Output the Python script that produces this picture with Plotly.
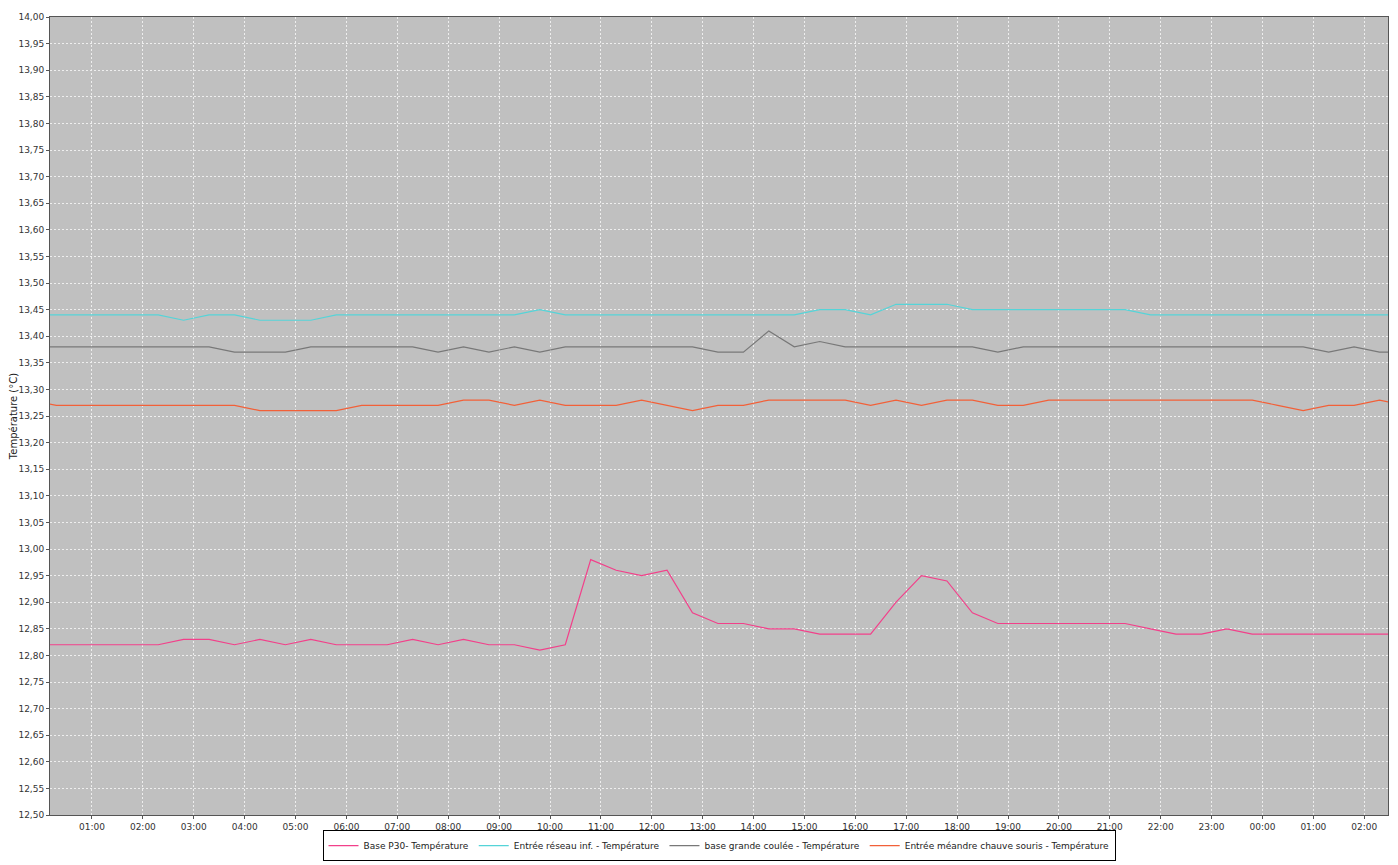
import pandas as pd
import plotly.graph_objects as go

# samples every 30 minutes, the axis window clips the first and last one
times = pd.date_range("2010-01-01 23:48", periods=55, freq="30min")

base_p30 = [12.82, 12.82, 12.82, 12.82, 12.82, 12.82, 12.83, 12.83, 12.82, 12.83,
            12.82, 12.83, 12.82, 12.82, 12.82, 12.83, 12.82, 12.83, 12.82, 12.82,
            12.81, 12.82, 12.98, 12.96, 12.95, 12.96, 12.88, 12.86, 12.86, 12.85,
            12.85, 12.84, 12.84, 12.84, 12.90, 12.95, 12.94, 12.88, 12.86, 12.86,
            12.86, 12.86, 12.86, 12.86, 12.85, 12.84, 12.84, 12.85, 12.84, 12.84,
            12.84, 12.84, 12.84, 12.84, 12.84]

entree_reseau = [13.44, 13.44, 13.44, 13.44, 13.44, 13.44, 13.43, 13.44, 13.44, 13.43,
                 13.43, 13.43, 13.44, 13.44, 13.44, 13.44, 13.44, 13.44, 13.44, 13.44,
                 13.45, 13.44, 13.44, 13.44, 13.44, 13.44, 13.44, 13.44, 13.44, 13.44,
                 13.44, 13.45, 13.45, 13.44, 13.46, 13.46, 13.46, 13.45, 13.45, 13.45,
                 13.45, 13.45, 13.45, 13.45, 13.44, 13.44, 13.44, 13.44, 13.44, 13.44,
                 13.44, 13.44, 13.44, 13.44, 13.44]

grande_coulee = [13.38, 13.38, 13.38, 13.38, 13.38, 13.38, 13.38, 13.38, 13.37, 13.37,
                 13.37, 13.38, 13.38, 13.38, 13.38, 13.38, 13.37, 13.38, 13.37, 13.38,
                 13.37, 13.38, 13.38, 13.38, 13.38, 13.38, 13.38, 13.37, 13.37, 13.41,
                 13.38, 13.39, 13.38, 13.38, 13.38, 13.38, 13.38, 13.38, 13.37, 13.38,
                 13.38, 13.38, 13.38, 13.38, 13.38, 13.38, 13.38, 13.38, 13.38, 13.38,
                 13.38, 13.37, 13.38, 13.37, 13.37]

meandre = [13.28, 13.27, 13.27, 13.27, 13.27, 13.27, 13.27, 13.27, 13.27, 13.26,
           13.26, 13.26, 13.26, 13.27, 13.27, 13.27, 13.27, 13.28, 13.28, 13.27,
           13.28, 13.27, 13.27, 13.27, 13.28, 13.27, 13.26, 13.27, 13.27, 13.28,
           13.28, 13.28, 13.28, 13.27, 13.28, 13.27, 13.28, 13.28, 13.27, 13.27,
           13.28, 13.28, 13.28, 13.28, 13.28, 13.28, 13.28, 13.28, 13.28, 13.27,
           13.26, 13.27, 13.27, 13.28, 13.27]

series = [
    ("Base P30- Température", base_p30, "#F2408A"),
    ("Entrée réseau inf. - Température", entree_reseau, "#55D4D8"),
    ("base grande coulée - Température", grande_coulee, "#787878"),
    ("Entrée méandre chauve souris - Température", meandre, "#F26038"),
]

fig = go.Figure()
for name, vals, col in series:
    fig.add_trace(go.Scatter(x=times, y=vals, mode="lines", name=name,
                             line=dict(color=col, width=1.2)))

grid = dict(showgrid=True, gridcolor="#EEEEEE", gridwidth=1, griddash="2px,2px",
            showline=True, linecolor="#555555", mirror=True, ticks="outside",
            ticklen=3, tickcolor="#555555", zeroline=False, automargin=False)

fig.update_xaxes(type="date", range=["2010-01-02 00:10:30", "2010-01-03 02:28"],
                 dtick=3600000, tick0="2010-01-02 00:00", tickformat="%H:%M",
                 tickfont=dict(size=9, color="#333333"), **grid)
fig.update_yaxes(range=[12.5, 14.0], dtick=0.05, tickformat=".2f",
                 title=dict(text="Température (°C)", font=dict(size=10, color="#222222"), standoff=0),
                 tickfont=dict(size=9, color="#333333"), **grid)

# the page body adds 8px around the figure, so the figure is 1390x857
fig.update_layout(
    width=1390, height=857,
    separators=", ",
    font=dict(family="DejaVu Sans, Liberation Sans, sans-serif", size=10, color="#222222"),
    plot_bgcolor="#C0C0C0", paper_bgcolor="#FFFFFF",
    margin=dict(l=42, r=10, t=9, b=50, autoexpand=False),
    showlegend=True,
    legend=dict(orientation="h", x=0.5, xanchor="center", y=-0.019, yanchor="top",
                bordercolor="#000000", borderwidth=1, bgcolor="#FFFFFF",
                font=dict(size=9), itemwidth=30, tracegroupgap=0),
)

fig.write_html("out.html")
